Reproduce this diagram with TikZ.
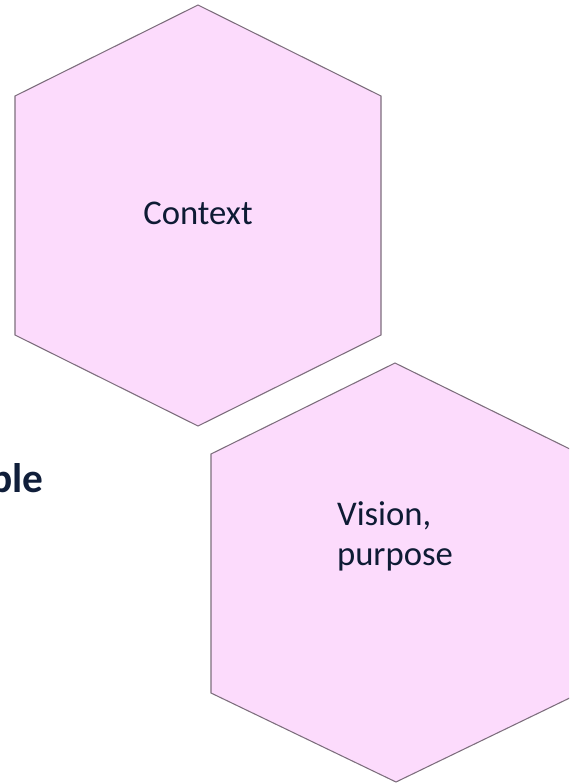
\documentclass[tikz,border=0pt]{standalone}
\usepackage{fontspec}
\setmainfont{Carlito}
\definecolor{hexfill}{RGB}{252,219,252}
\definecolor{hexline}{RGB}{125,110,125}
\definecolor{navy}{RGB}{16,30,58}
\tikzset{hexshape/.style={draw=hexline,fill=hexfill,line width=0.8},
  hextext/.style={font=\fontsize{26}{30}\selectfont,text=navy!90!black}}

\begin{document}
\begin{tikzpicture}[x=0.75pt,y=0.75pt,yscale=-1,xscale=1]
\useasboundingbox (0,0) rectangle (569,783);
\clip (0,0) rectangle (569,783);

%Shape: Hexagon [id:context]
\draw [hexshape] (198,5) -- (381,96) -- (381,335) -- (198,426) -- (15,335) -- (15,96) -- cycle ;
%Shape: Hexagon [id:vision]
\draw [hexshape] (395,363) -- (580,454) -- (580,693) -- (396,782) -- (211,693) -- (211,454) -- cycle ;

% Text Node
\node [hextext] (context) at (198,213) {Context};
% Text Node
\node [hextext,align=left] (vision) at (395,536) {Vision,\\purpose};
% Text Node
\node [anchor=base west,inner sep=0pt,text=navy,font=\fontsize{31}{36}\selectfont\bfseries] (cut) at (-10,492) {ble};

\end{tikzpicture}
\end{document}
